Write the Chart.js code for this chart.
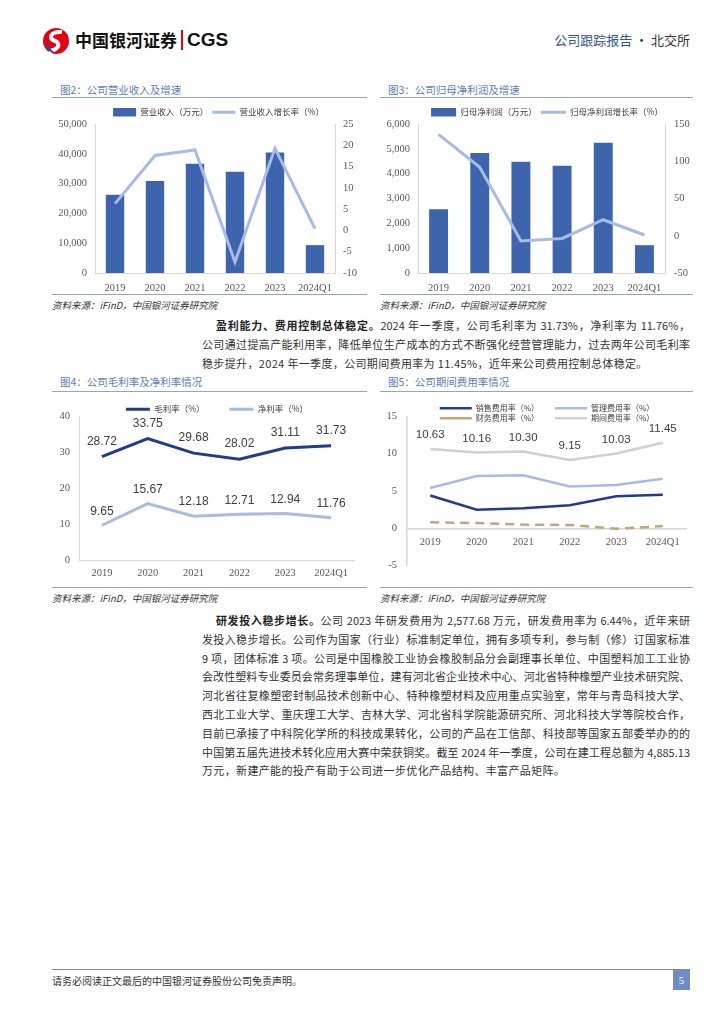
<!DOCTYPE html>
<html lang="zh-CN">
<head>
<meta charset="utf-8">
<title>公司跟踪报告 · 北交所</title>
<script src="https://cdn.jsdelivr.net/npm/chart.js@4.4.1/dist/chart.umd.min.js"></script>
<style>
  html, body { margin: 0; padding: 0; background: #fff; }
  #page { position: relative; width: 724px; height: 1024px; overflow: hidden;
          font-family: "Noto Sans CJK SC", sans-serif; color: #333; }
  canvas { position: absolute; }
  .fig-title { position: absolute; font-size: 10.5px; line-height: 14px; color: #5b7cc0; white-space: nowrap; }
  .rule { position: absolute; height: 0; border-top: 1.5px solid #8fa4d4; }
  .source { position: absolute; font-size: 9.5px; line-height: 12px; color: #333; font-style: italic; white-space: nowrap; }
  .ln { position: absolute; font-size: 11px; line-height: 14px; white-space: nowrap; color: #333; }
  .j { text-align: justify; text-align-last: justify; }
  .ln b { font-weight: bold; color: #222; }
</style>
</head>
<body>
<div id="page">

  <!-- header -->
  <svg style="position:absolute;left:42px;top:27px" width="28" height="28" viewBox="0 0 28 28">
    <circle cx="14" cy="14" r="13" fill="#e60012"/>
    <path d="M20 5 C8 4 6 12 13 14 C19 16 17 23 7 24" stroke="#fff" stroke-width="4" fill="none"/>
    <path d="M3 19 C6 24 10 26 14 26 C10 24 8 22 7 18 Z" fill="#1d4f9c"/>
  </svg>
  <div style="position:absolute;left:75px;top:28px;font-size:17px;font-weight:bold;line-height:24px;color:#111">中国银河证券</div>
  <div style="position:absolute;left:181px;top:30px;width:1.5px;height:20px;background:#e60012"></div>
  <div style="position:absolute;left:187px;top:27px;font-family:'Liberation Sans';font-size:19px;font-weight:bold;line-height:26px;color:#111">CGS</div>
  <div style="position:absolute;right:34px;top:32px;font-size:13px;line-height:16px;white-space:nowrap">
    <span style="color:#2f5597">公司跟踪报告</span><span style="color:#333"> · 北交所</span>
  </div>

  <!-- figure 2 -->
  <div class="fig-title" style="left:60px;top:83px">图2：公司营业收入及增速</div>
  <div class="rule" style="left:52px;top:97px;width:315px"></div>
  <canvas id="chart1" width="315" height="189" style="left:52px;top:104px"></canvas>
  <div class="rule" style="left:52px;top:294px;width:315px"></div>
  <div class="source" style="left:52px;top:299px">资料来源：iFinD，中国银河证券研究院</div>

  <!-- figure 3 -->
  <div class="fig-title" style="left:388px;top:83px">图3：公司归母净利润及增速</div>
  <div class="rule" style="left:380px;top:97px;width:313px"></div>
  <canvas id="chart2" width="314" height="189" style="left:380px;top:104px"></canvas>
  <div class="rule" style="left:380px;top:294px;width:313px"></div>
  <div class="source" style="left:380px;top:299px">资料来源：iFinD，中国银河证券研究院</div>

  <!-- paragraph 1 -->
  <div class="ln j" style="left:216px;top:318px;width:474px"><b>盈利能力、费用控制总体稳定。</b>2024 年一季度，公司毛利率为 31.73%，净利率为 11.76%，</div>
  <div class="ln j" style="left:202px;top:337px;width:488px">公司通过提高产能利用率，降低单位生产成本的方式不断强化经营管理能力，过去两年公司毛利率</div>
  <div class="ln" style="left:202px;top:356px;letter-spacing:0.35px">稳步提升，2024 年一季度，公司期间费用率为 11.45%，近年来公司费用控制总体稳定。</div>

  <!-- figure 4 -->
  <div class="fig-title" style="left:60px;top:375px">图4：公司毛利率及净利率情况</div>
  <div class="rule" style="left:52px;top:391px;width:315px"></div>
  <canvas id="chart3" width="315" height="200" style="left:52px;top:380px"></canvas>
  <div class="rule" style="left:52px;top:587px;width:315px"></div>
  <div class="source" style="left:52px;top:592px">资料来源：iFinD，中国银河证券研究院</div>

  <!-- figure 5 -->
  <div class="fig-title" style="left:388px;top:375px">图5：公司期间费用率情况</div>
  <div class="rule" style="left:380px;top:391px;width:313px"></div>
  <canvas id="chart4" width="314" height="182" style="left:380px;top:400px"></canvas>
  <div class="rule" style="left:380px;top:587px;width:313px"></div>
  <div class="source" style="left:380px;top:592px">资料来源：iFinD，中国银河证券研究院</div>

  <!-- paragraph 2 -->
  <div class="ln j" style="left:216px;top:613px;width:474px"><b>研发投入稳步增长。</b>公司 2023 年研发费用为 2,577.68 万元，研发费用率为 6.44%，近年来研</div>
  <div class="ln j" style="left:202px;top:632px;width:488px">发投入稳步增长。公司作为国家（行业）标准制定单位，拥有多项专利，参与制（修）订国家标准</div>
  <div class="ln j" style="left:202px;top:651px;width:488px">9 项，团体标准 3 项。公司是中国橡胶工业协会橡胶制品分会副理事长单位、中国塑料加工工业协</div>
  <div class="ln j" style="left:202px;top:669px;width:488px">会改性塑料专业委员会常务理事单位，建有河北省企业技术中心、河北省特种橡塑产业技术研究院、</div>
  <div class="ln j" style="left:202px;top:688px;width:488px">河北省往复橡塑密封制品技术创新中心、特种橡塑材料及应用重点实验室，常年与青岛科技大学、</div>
  <div class="ln j" style="left:202px;top:707px;width:488px">西北工业大学、重庆理工大学、吉林大学、河北省科学院能源研究所、河北科技大学等院校合作，</div>
  <div class="ln j" style="left:202px;top:726px;width:488px">目前已承接了中科院化学所的科技成果转化，公司的产品在工信部、科技部等国家五部委举办的的</div>
  <div class="ln j" style="left:202px;top:745px;width:488px">中国第五届先进技术转化应用大赛中荣获铜奖。截至 2024 年一季度，公司在建工程总额为 4,885.13</div>
  <div class="ln" style="left:202px;top:763px;letter-spacing:0.35px">万元，新建产能的投产有助于公司进一步优化产品结构、丰富产品矩阵。</div>

  <!-- footer -->
  <div style="position:absolute;left:52px;top:969px;width:638px;height:0;border-top:1px solid #888"></div>
  <div style="position:absolute;left:52px;top:974px;font-size:10px;line-height:13px;color:#333;white-space:nowrap">请务必阅读正文最后的中国银河证券股份公司免责声明。</div>
  <div style="position:absolute;left:673px;top:970px;width:17px;height:20px;background:#6f8cc4;color:#fff;font-family:'Liberation Serif';font-size:11px;line-height:20px;text-align:center">5</div>
</div>

<script>
// categories
const years = ['2019', '2020', '2021', '2022', '2023', '2024Q1'];

// fig 2: revenue (万元) and growth (%)
const revenue = [26300, 30900, 36700, 34000, 40400, 9350];
const revenueGrowth = [6.3, 17.6, 18.9, -7.4, 19.3, 0.4];

// fig 3: net profit attributable (万元) and growth (%)
const netProfit = [2570, 4830, 4480, 4320, 5250, 1120];
const netProfitGrowth = [136, 92, -7, -3.6, 21.5, 1];

// fig 4: margins (%)
const grossMargin = [28.72, 33.75, 29.68, 28.02, 31.11, 31.73];
const netMargin = [9.65, 15.67, 12.18, 12.71, 12.94, 11.76];

// fig 5: expense ratios (%)
const sellingRate = [4.4, 2.5, 2.7, 3.1, 4.3, 4.5];
const adminRate = [5.4, 7.0, 7.1, 5.6, 5.8, 6.65];
const financeRate = [0.8, 0.7, 0.5, 0.45, -0.05, 0.3];
const periodRate = [10.63, 10.16, 10.30, 9.15, 10.03, 11.45];

const BAR = '#3d64ad';
const LIGHT = '#a6bbe5';
const DARK = '#1f3c8e';
const AXIS = '#d6d6d6';
const TICK = '#595959';

Chart.defaults.font.family = "'Liberation Serif', serif";
Chart.defaults.font.size = 10.5;
Chart.defaults.color = TICK;
Chart.defaults.animation = false;

// legend takes h px in the layout (so the plot starts right below it),
// but is allowed to draw further down and shifted by dx
function legendBox(h, dx) {
    return {
        id: 'legendBox',
        afterInit(chart) {
            const fit = chart.legend.fit;
            chart.legend.fit = function () {
                fit.call(this);
                this.height = h;
            };
        },
        afterLayout(chart) {
            const lg = chart.legend;
            lg.height = 60;
            lg.bottom = lg.top + 60;
            lg.left += dx;
            lg.right += dx;
        }
    };
}

// value labels above line points
const pointLabels = {
    id: 'pointLabels',
    afterDatasetsDraw(chart) {
        const ctx = chart.ctx;
        chart.data.datasets.forEach((ds, i) => {
            if (!ds.valueLabels) return;
            const meta = chart.getDatasetMeta(i);
            ctx.save();
            ctx.font = ds.valueLabels.font;
            ctx.fillStyle = '#404040';
            ctx.textAlign = 'center';
            ctx.textBaseline = 'middle';
            meta.data.forEach((pt, j) => {
                ctx.fillText(ds.data[j].toFixed(2), pt.x, pt.y - ds.valueLabels.offset);
            });
            ctx.restore();
        });
    }
};

function legendOpts(size, padding, boxW) {
    return {
        position: 'top',
        labels: {
            usePointStyle: true,
            pointStyleWidth: boxW,
            boxHeight: 9,
            padding: padding,
            color: '#404040',
            font: { family: "'Noto Sans CJK SC'", size: size },
            sort: (a, b) => a.datasetIndex - b.datasetIndex
        }
    };
}

function yAxis(pos, min, max, step, width, pad, fmt) {
    return {
        position: pos,
        min: min, max: max,
        grid: { display: false, drawTicks: false },
        border: { display: true, color: AXIS, width: 1 },
        ticks: { stepSize: step, padding: pad, callback: fmt || (v => v) },
        afterFit: s => { s.width = width; }
    };
}

function xAxis(height, pad, extra) {
    return Object.assign({
        grid: { display: false, drawTicks: false },
        border: { display: true, color: AXIS, width: 1 },
        ticks: { padding: pad },
        offset: true,
        afterFit: s => { s.height = height; }
    }, extra || {});
}

const comma = v => v.toLocaleString('en-US');

// Function to create bar + growth line chart
function createBarLineChart(id, barLabel, barData, lineLabel, lineData, y, y1, legend, box) {
    const ctx = document.getElementById(id).getContext('2d');
    return new Chart(ctx, {
        data: {
            labels: years,
            datasets: [{
                type: 'bar',
                label: barLabel,
                data: barData,
                backgroundColor: BAR,
                pointStyle: 'rect',
                barPercentage: 0.46,
                categoryPercentage: 1,
                yAxisID: 'y',
                order: 1
            }, {
                type: 'line',
                label: lineLabel,
                data: lineData,
                borderColor: LIGHT,
                backgroundColor: LIGHT,
                borderWidth: 3,
                pointRadius: 0,
                pointStyle: 'line',
                tension: 0,
                yAxisID: 'y1',
                order: 0
            }]
        },
        options: {
            responsive: false,
            layout: { padding: 0 },
            scales: {
                x: xAxis(20, 9),
                y: y,
                y1: y1
            },
            plugins: {
                legend: legend,
                tooltip: { enabled: false }
            }
        },
        plugins: [box]
    });
}

createBarLineChart('chart1',
    '营业收入（万元）', revenue,
    '营业收入增长率（%）', revenueGrowth,
    yAxis('left', 0, 50000, 10000, 43, 8, comma),
    yAxis('right', -10, 25, 5, 32, 8),
    legendOpts(8.5, 4, 23), legendBox(20, 9));

createBarLineChart('chart2',
    '归母净利润（万元）', netProfit,
    '归母净利润增长率（%）', netProfitGrowth,
    yAxis('left', 0, 6000, 1000, 38, 8, comma),
    yAxis('right', -50, 150, 50, 29, 9),
    legendOpts(8.5, 4, 25), legendBox(20, 10));

// margins chart
new Chart(document.getElementById('chart3').getContext('2d'), {
    type: 'line',
    data: {
        labels: years,
        datasets: [{
            label: '毛利率（%）',
            data: grossMargin,
            borderColor: DARK,
            backgroundColor: DARK,
            borderWidth: 3,
            pointRadius: 0,
            pointStyle: 'line',
            valueLabels: { font: "12px 'Liberation Sans'", offset: 15 }
        }, {
            label: '净利率（%）',
            data: netMargin,
            borderColor: LIGHT,
            backgroundColor: LIGHT,
            borderWidth: 3,
            pointRadius: 0,
            pointStyle: 'line',
            valueLabels: { font: "12px 'Liberation Sans'", offset: 14 }
        }]
    },
    options: {
        responsive: false,
        layout: { padding: { right: 13 } },
        scales: {
            x: xAxis(20, 7),
            y: yAxis('left', 0, 40, 10, 27, 9)
        },
        plugins: {
            legend: legendOpts(8.5, 25, 24),
            tooltip: { enabled: false }
        }
    },
    plugins: [legendBox(36, 14), pointLabels]
});

// expense ratio chart (trailing spaces keep the legend in two columns)
new Chart(document.getElementById('chart4').getContext('2d'), {
    type: 'line',
    data: {
        labels: years,
        datasets: [{
            label: '销售费用率（%）\u3000\u3000 ',
            data: sellingRate,
            borderColor: DARK,
            backgroundColor: DARK,
            borderWidth: 2.5,
            pointRadius: 0,
            pointStyle: 'line'
        }, {
            label: '管理费用率（%）',
            data: adminRate,
            borderColor: LIGHT,
            backgroundColor: LIGHT,
            borderWidth: 2.5,
            pointRadius: 0,
            pointStyle: 'line'
        }, {
            label: '财务费用率（%）\u3000\u3000 ',
            data: financeRate,
            borderColor: '#c4a57a',
            backgroundColor: '#c4a57a',
            borderWidth: 2.5,
            borderDash: [9, 6],
            pointRadius: 0,
            pointStyle: 'line'
        }, {
            label: '期间费用率（%）',
            data: periodRate,
            borderColor: '#d0d0d0',
            backgroundColor: '#d0d0d0',
            borderWidth: 2.5,
            pointRadius: 0,
            pointStyle: 'line',
            valueLabels: { font: "11.5px 'Liberation Sans'", offset: 14 }
        }]
    },
    options: {
        responsive: false,
        layout: { padding: { right: 8, bottom: 8 } },
        scales: {
            x: xAxis(20, 8, { position: { y: 0 }, border: { display: true, color: AXIS, width: 1.5 } }),
            y: Object.assign(yAxis('left', -5, 15, 5, 27, 10), { border: { display: true, color: AXIS, width: 1.5 } })
        },
        plugins: {
            legend: legendOpts(8, 2, 32),
            tooltip: { enabled: false }
        }
    },
    plugins: [legendBox(14, 14), pointLabels]
});
</script>
</body>
</html>
